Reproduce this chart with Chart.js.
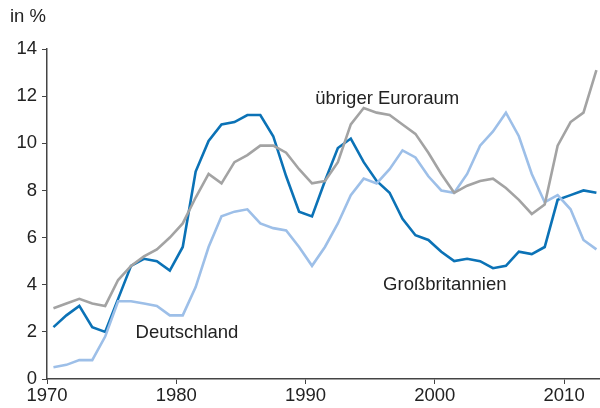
<!DOCTYPE html>
<html>
<head>
<meta charset="utf-8">
<script src="https://cdn.jsdelivr.net/npm/chart.js@4/dist/chart.umd.min.js"></script>
<style>
  html, body { margin: 0; padding: 0; background: #fff; }
  #wrap { position: relative; width: 600px; height: 408px; }
</style>
</head>
<body>
<div id="wrap"><canvas id="myChart"></canvas></div>
<script>
// annual values 1970..2012, in %
const years = [];
for (let y = 1970; y <= 2012; y++) years.push(y);

const deutschland = [2.2, 2.7, 3.1, 2.2, 2.0, 3.4, 4.8, 5.1, 5.0, 4.6,
  5.6, 8.8, 10.1, 10.8, 10.9, 11.2, 11.2, 10.3, 8.6, 7.1,
  6.9, 8.4, 9.8, 10.2, 9.2, 8.4, 7.9, 6.8, 6.1, 5.9,
  5.4, 5.0, 5.1, 5.0, 4.7, 4.8, 5.4, 5.3, 5.6, 7.6,
  7.8, 8.0, 7.9];

const euroraum = [3.0, 3.2, 3.4, 3.2, 3.1, 4.2, 4.8, 5.2, 5.5, 6.0,
  6.6, 7.7, 8.7, 8.3, 9.2, 9.5, 9.9, 9.9, 9.6, 8.9,
  8.3, 8.4, 9.2, 10.8, 11.5, 11.3, 11.2, 10.8, 10.4, 9.6,
  8.7, 7.9, 8.2, 8.4, 8.5, 8.1, 7.6, 7.0, 7.4, 9.9,
  10.9, 11.3, 13.1];

const grossbritannien = [0.5, 0.6, 0.8, 0.8, 1.8, 3.3, 3.3, 3.2, 3.1, 2.7,
  2.7, 3.9, 5.6, 6.9, 7.1, 7.2, 6.6, 6.4, 6.3, 5.6,
  4.8, 5.6, 6.6, 7.8, 8.5, 8.3, 8.9, 9.7, 9.4, 8.6,
  8.0, 7.9, 8.7, 9.9, 10.5, 11.3, 10.3, 8.7, 7.5, 7.8,
  7.2, 5.9, 5.5];

const yTicks = [0, 2, 4, 6, 8, 10, 12, 14];
const xTicks = [1970, 1980, 1990, 2000, 2010];

// series name and where its text sits (year, value)
const seriesLabels = [
  { text: 'Deutschland', x: 1976.85, y: 1.95 },
  { text: 'übriger Euroraum', x: 1990.75, y: 11.9 },
  { text: 'Großbritannien', x: 1996.0, y: 4.0 }
];

const FONT = '"Liberation Sans", Arial, sans-serif';

function points(values) {
  // each annual value is drawn at the middle of its year
  return values.map((v, i) => ({ x: years[i] + 0.5, y: v }));
}

const labelPlugin = {
  id: 'labels',
  afterDraw(chart) {
    const ctx = chart.ctx;
    const xs = chart.scales.x, ys = chart.scales.y;
    ctx.save();
    ctx.font = '18.5px ' + FONT;
    ctx.textBaseline = 'middle';
    ctx.textAlign = 'left';
    ctx.fillStyle = '#222';
    seriesLabels.forEach(l => {
      ctx.fillText(l.text, xs.getPixelForValue(l.x), ys.getPixelForValue(l.y));
    });
    ctx.fillText('in %', 10, 17);
    ctx.restore();
  }
};

new Chart('myChart', {
  type: 'line',
  data: {
    datasets: [{
      data: points(euroraum),
      borderColor: '#a3a3a3',
      borderWidth: 2.6
    }, {
      data: points(grossbritannien),
      borderColor: '#9dbfe8',
      borderWidth: 2.6
    }, {
      data: points(deutschland),
      borderColor: '#0b72b6',
      borderWidth: 2.6
    }]
  },
  options: {
    responsive: true,
    maintainAspectRatio: false,
    animation: false,
    events: [],
    elements: { point: { radius: 0 }, line: { tension: 0, fill: false } },
    layout: { padding: { top: 49, right: 1, left: 0, bottom: 0 } },
    plugins: { legend: { display: false }, tooltip: { enabled: false } },
    scales: {
      x: {
        type: 'linear',
        min: 1970,
        max: 2012.7,
        afterFit(scale) { scale.height = 29; },
        afterBuildTicks(scale) { scale.ticks = xTicks.map(v => ({ value: v })); },
        grid: { drawOnChartArea: false, drawTicks: true, tickLength: 5, color: '#444' },
        border: { display: true, color: '#444', width: 1.5 },
        ticks: {
          color: '#222',
          padding: 1,
          maxRotation: 0,
          font: { size: 18.5, family: FONT },
          callback: v => String(v)
        }
      },
      y: {
        min: 0,
        max: 14,
        afterFit(scale) { scale.width = 47; },
        afterBuildTicks(scale) { scale.ticks = yTicks.map(v => ({ value: v })); },
        grid: { drawOnChartArea: false, drawTicks: true, tickLength: 5, color: '#444' },
        border: { display: true, color: '#444', width: 1.5 },
        ticks: {
          color: '#222',
          padding: 5,
          font: { size: 18.5, family: FONT }
        }
      }
    }
  },
  plugins: [labelPlugin]
});
</script>
</body>
</html>
